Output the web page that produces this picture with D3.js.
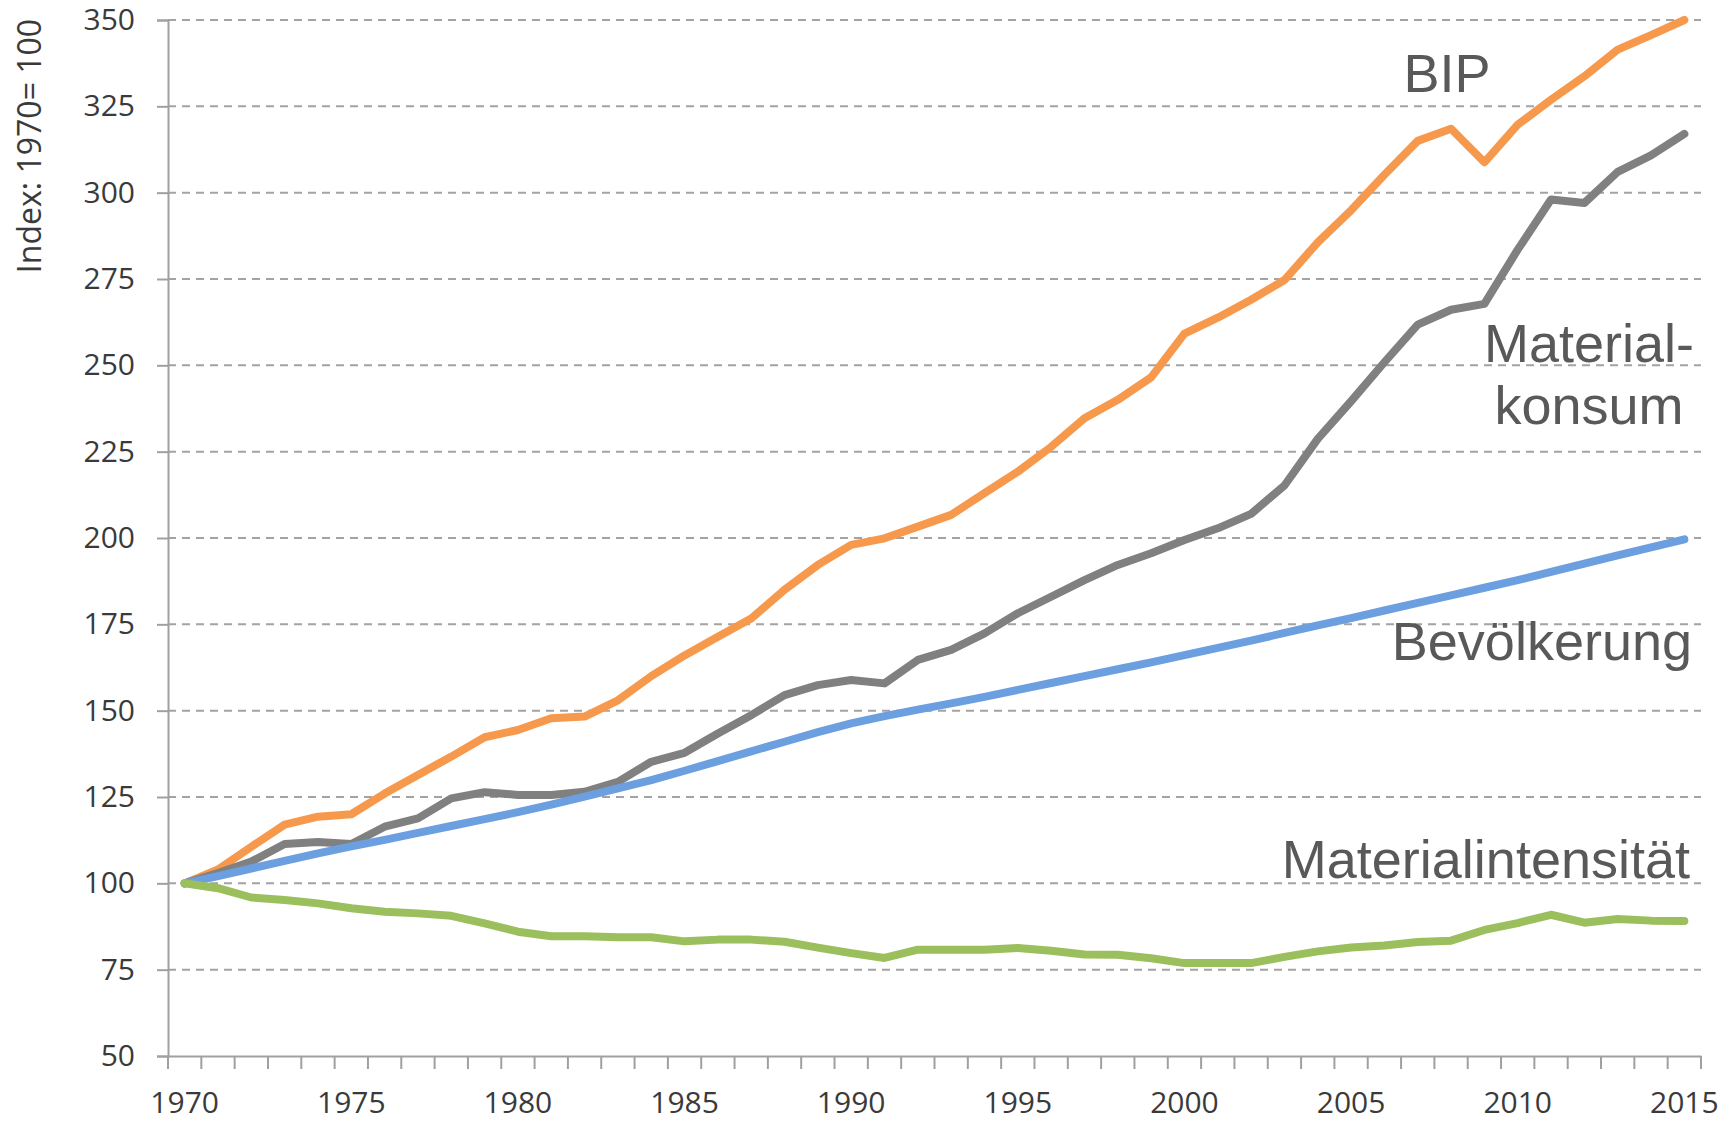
<!DOCTYPE html>
<html>
<head>
<meta charset="utf-8">
<script src="https://cdn.jsdelivr.net/npm/d3@7"></script>
<style>
  body { margin: 0; background: #fff; }
  svg { display: block; }
</style>
</head>
<body>
<svg width="1732" height="1121"></svg>
<script>
// values (index, 1970 = 100)
var years = d3.range(1970, 2016);

var bip = [100, 104, 110.6, 117, 119.3, 120, 126, 131.4, 136.7, 142.3,
  144.4, 147.8, 148.3, 153, 160, 166, 171.4, 176.7, 185, 192.2,
  198, 199.9, 203.3, 206.7, 213, 219.2, 226.4, 234.7, 240, 246.5,
  259.2, 263.8, 269, 274.7, 285.6, 294.9, 305.2, 315, 318.5, 308.8,
  319.7, 326.9, 333.7, 341.4, 345.6, 350];

var materialkonsum = [100, 103, 106.3, 111.4, 112, 111.4, 116.4, 118.8, 124.6, 126.4,
  125.6, 125.6, 126.5, 129.4, 135.2, 137.8, 143.4, 148.7, 154.5, 157.4,
  158.9, 157.9, 164.7, 167.6, 172.4, 178.2, 183, 187.8, 192.2, 195.6,
  199.4, 202.8, 207, 215.2, 228.7, 239.6, 250.9, 261.8, 266.1, 267.8,
  283.5, 298, 297, 306, 310.8, 317];

var bevoelkerung = [100, 102.1, 104.3, 106.5, 108.7, 110.7, 112.6, 114.6, 116.6, 118.6,
  120.6, 122.8, 125.1, 127.5, 129.9, 132.6, 135.4, 138.2, 141, 143.8,
  146.3, 148.4, 150.3, 152.1, 154, 156, 158, 160, 162, 164,
  166.1, 168.2, 170.3, 172.5, 174.7, 176.8, 179, 181.2, 183.4, 185.6,
  187.8, 190.2, 192.6, 195, 197.3, 199.6];

var materialintensitaet = [100, 98.6, 95.9, 95.2, 94.2, 92.8, 91.8, 91.3, 90.6, 88.4,
  86, 84.7, 84.7, 84.4, 84.4, 83.2, 83.7, 83.7, 83.1, 81.4,
  79.8, 78.4, 80.8, 80.8, 80.8, 81.3, 80.5, 79.4, 79.3, 78.3,
  76.9, 76.9, 76.9, 78.7, 80.3, 81.4, 82, 83, 83.4, 86.5,
  88.5, 90.9, 88.6, 89.7, 89.2, 89.1];

var yTicks = d3.range(50, 351, 25);
var xLabelYears = d3.range(1970, 2016, 5);
var yTitle = 'Index: 1970= 100';

var series = [
  { name: 'BIP', values: bip, color: '#f7994c' },
  { name: 'Materialkonsum', values: materialkonsum, color: '#808080' },
  { name: 'Bevölkerung', values: bevoelkerung, color: '#6b9fe0' },
  { name: 'Materialintensität', values: materialintensitaet, color: '#9bbf5c' }
];

var svg = d3.select('svg'),
  width = +svg.attr('width'),
  height = +svg.attr('height');

var plotLeft = 168, plotRight = 1701, plotTop = 20, plotBottom = 1056;
var tickFont = '"Open Sans", Lato, sans-serif';

var x = d3.scaleBand().domain(years).range([plotLeft, plotRight]).padding(0);
var y = d3.scaleLinear().domain([50, 350]).range([plotBottom, plotTop]);

// dashed grid
svg.append('g')
  .selectAll('line')
  .data(yTicks.filter(function(d) { return d > 50; }))
  .enter()
  .append('line')
  .attr('x1', plotLeft)
  .attr('x2', plotRight)
  .attr('y1', function(d) { return y(d); })
  .attr('y2', function(d) { return y(d); })
  .attr('stroke', '#a3a3a3')
  .attr('stroke-width', 2)
  .attr('stroke-dasharray', '8,6');

// y axis
var yAxis = svg.append('g')
  .attr('transform', 'translate(' + plotLeft + ',0)')
  .call(d3.axisLeft(y).tickValues(yTicks).tickSize(11).tickPadding(22));
yAxis.selectAll('path, line').attr('stroke', '#a0a0a0').attr('stroke-width', 2);
yAxis.selectAll('text')
  .attr('font-family', tickFont)
  .attr('font-size', 30)
  .attr('fill', '#3a3a3a');

// x axis: labels every 5 years, ticks between categories
var xAxis = svg.append('g')
  .attr('transform', 'translate(0,' + plotBottom + ')')
  .call(d3.axisBottom(x).tickValues(xLabelYears).tickSize(0).tickPadding(36));
xAxis.select('path').attr('stroke', '#a0a0a0').attr('stroke-width', 2);
xAxis.selectAll('text')
  .attr('font-family', tickFont)
  .attr('font-size', 30)
  .attr('fill', '#3a3a3a');

svg.append('g')
  .selectAll('line')
  .data(years.concat([2016]))
  .enter()
  .append('line')
  .attr('x1', function(d, i) { return plotLeft + i * x.step(); })
  .attr('x2', function(d, i) { return plotLeft + i * x.step(); })
  .attr('y1', plotBottom)
  .attr('y2', plotBottom + 13)
  .attr('stroke', '#a0a0a0')
  .attr('stroke-width', 2);

// y axis title
svg.append('text')
  .attr('transform', 'translate(41,146) rotate(-90)')
  .attr('text-anchor', 'middle')
  .attr('font-family', tickFont)
  .attr('font-size', 32)
  .attr('fill', '#3a3a3a')
  .text(yTitle);

// lines
var line = d3.line()
  .x(function(d, i) { return x(years[i]) + x.bandwidth() / 2; })
  .y(function(d) { return y(d); });

svg.append('g')
  .attr('fill', 'none')
  .attr('stroke-width', 8)
  .attr('stroke-linejoin', 'round')
  .attr('stroke-linecap', 'round')
  .selectAll('path')
  .data(series)
  .enter()
  .append('path')
  .attr('stroke', function(d) { return d.color; })
  .attr('d', function(d) { return line(d.values); });

// series labels
var labels = [
  { text: 'BIP', x: 1447, y: 92, anchor: 'middle' },
  { text: 'Material-', x: 1589, y: 362, anchor: 'middle' },
  { text: 'konsum', x: 1589, y: 424, anchor: 'middle' },
  { text: 'Bevölkerung', x: 1692, y: 660, anchor: 'end' },
  { text: 'Materialintensität', x: 1690, y: 878, anchor: 'end' }
];

svg.append('g')
  .selectAll('text')
  .data(labels)
  .enter()
  .append('text')
  .attr('x', function(d) { return d.x; })
  .attr('y', function(d) { return d.y; })
  .attr('text-anchor', function(d) { return d.anchor; })
  .attr('font-family', '"Liberation Sans", Arial, sans-serif')
  .attr('font-size', 54)
  .attr('fill', '#595959')
  .text(function(d) { return d.text; });
</script>
</body>
</html>
